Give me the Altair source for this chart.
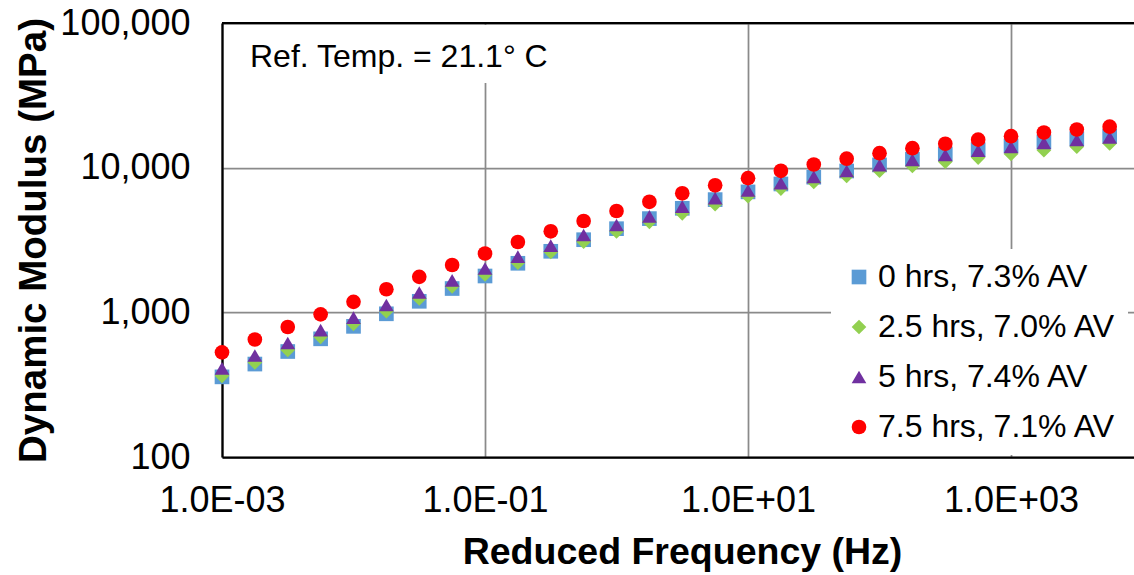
import altair as alt
import pandas as pd
import math

# Reduced frequency (Hz)
freq = [0.001, 0.001778, 0.003162, 0.005623, 0.01, 0.01778, 0.03162, 0.05623,
        0.1, 0.1778, 0.3162, 0.5623, 1.0, 1.778, 3.162, 5.623,
        10.0, 17.78, 31.62, 56.23, 100.0, 177.8, 316.2, 562.3,
        1000.0, 1778.0, 3162.0, 5623.0]

# Dynamic modulus (MPa) per series
mod_0hrs = [358, 439, 536, 656, 800, 977, 1192, 1461, 1783, 2183, 2642, 3177, 3786, 4445,
            5236, 6015, 6802, 7713, 8593, 9484, 10449, 11444, 12427, 13316, 14143, 15092, 15830, 16554]
mod_25hrs = [364, 450, 549, 677, 833, 1017, 1246, 1513, 1826, 2204, 2612, 3077, 3620, 4224,
             4836, 5583, 6352, 7167, 7962, 8760, 9530, 10270, 10995, 11743, 12433, 13206, 13962, 14715]
mod_5hrs = [410, 503, 614, 753, 919, 1124, 1371, 1665, 2009, 2425, 2893, 3424, 4015, 4612,
            5379, 6160, 6954, 7822, 8648, 9484, 10401, 11315, 12230, 13106, 13917, 14854, 15529, 16187]
mod_75hrs = [529, 649, 792, 969, 1182, 1443, 1760, 2124, 2551, 3064, 3632, 4279, 5017, 5808,
             6649, 7553, 8458, 9513, 10518, 11535, 12589, 13632, 14641, 15612, 16503, 17500, 18356, 19195]

series_names = ["0 hrs, 7.3% AV", "2.5 hrs, 7.0% AV", "5 hrs, 7.4% AV", "7.5 hrs, 7.1% AV"]
series_colors = ["#5B9BD5", "#92D050", "#7030A0", "#FF0000"]
series_shapes = ["square", "diamond", "triangle-up", "circle"]

x_tick_values = [0.001, 0.1, 10, 1000]
x_tick_labels = ["1.0E-03", "1.0E-01", "1.0E+01", "1.0E+03"]
y_tick_values = [100, 1000, 10000, 100000]

x_title = "Reduced Frequency (Hz)"
y_title = "Dynamic Modulus (MPa)"
annotation = "Ref. Temp. = 21.1° C"

FONT = "Liberation Sans"

rows = []
for i, (name, vals) in enumerate(zip(series_names, [mod_0hrs, mod_25hrs, mod_5hrs, mod_75hrs])):
    for f, v in zip(freq, vals):
        rows.append({"freq": f, "mod": v, "series": name, "idx": i})
df = pd.DataFrame(rows)

# label expression for x ticks (exponent -> label)
parts = []
for v, lab in zip(x_tick_values, x_tick_labels):
    e = int(round(math.log10(v)))
    parts.append(f"round(log(datum.value)/LN10) == {e} ? '{lab}'")
x_label_expr = " : ".join(parts) + " : ''"

W, H = 912, 434

legend = alt.Legend(
    title=None, orient="none", legendX=609, legendY=226,
    fillColor="white", padding=12,
    labelFont=FONT, labelFontSize=32, labelColor="black", labelLimit=1000,
    symbolSize=215, rowPadding=18, labelOffset=3,
    symbolStrokeWidth=0, symbolOpacity=1,
)

points = alt.Chart(df).mark_point(filled=True, opacity=1, size=215, strokeWidth=0).encode(
    x=alt.X("freq:Q",
            scale=alt.Scale(type="log", domain=[0.001, 8610], nice=False),
            axis=alt.Axis(values=x_tick_values, labelExpr=x_label_expr,
                          grid=True, gridColor="#8a8a8a", gridWidth=1.75,
                          ticks=False, domainColor="black", domainWidth=2.25,
                          labelFont=FONT, labelFontSize=36, labelColor="black",
                          labelPadding=26, labelFlush=False,
                          title=x_title, titleFont=FONT, titleFontSize=37.5,
                          titleFontWeight="bold", titleColor="black",
                          titleX=460, titleY=106, titleAlign="center",
                          titleBaseline="alphabetic")),
    y=alt.Y("mod:Q",
            scale=alt.Scale(type="log", domain=[100, 100000], nice=False),
            axis=alt.Axis(values=y_tick_values, format=",d",
                          grid=True, gridColor="#8a8a8a", gridWidth=1.75,
                          ticks=False, domainColor="black", domainWidth=2.25,
                          labelFont=FONT, labelFontSize=36, labelColor="black",
                          labelPadding=32, labelFlush=False,
                          title=y_title, titleFont=FONT, titleFontSize=38.5,
                          titleFontWeight="bold", titleColor="black",
                          titleAngle=270, titleX=-177, titleY=217,
                          titleAlign="center", titleBaseline="alphabetic")),
    color=alt.Color("series:N", scale=alt.Scale(domain=series_names, range=series_colors), legend=legend),
    shape=alt.Shape("series:N", scale=alt.Scale(domain=series_names, range=series_shapes), legend=legend),
    order=alt.Order("idx:Q"),
)

one = alt.Data(values=[{"a": 1}])

text_bg = alt.Chart(one).mark_rect(color="white").encode(
    x=alt.value(15), x2=alt.value(345), y=alt.value(2), y2=alt.value(60)
)

text = alt.Chart(one).mark_text(
    align="left", baseline="alphabetic", font=FONT, fontSize=32, color="black"
).encode(x=alt.value(28), y=alt.value(44), text=alt.value(annotation))

top_rule = alt.Chart(one).mark_rule(color="black", strokeWidth=2.25).encode(
    x=alt.value(0), x2=alt.value(W), y=alt.value(0)
)

chart = alt.layer(text_bg, points, text, top_rule).properties(
    width=W, height=H,
    padding={"left": 222, "top": 23, "right": 0, "bottom": 118},
    autosize=alt.AutoSizeParams(type="none"),
).configure_view(stroke="transparent").configure(background="white")

chart.save("out.html", embed_options={"renderer": "svg", "actions": False})
